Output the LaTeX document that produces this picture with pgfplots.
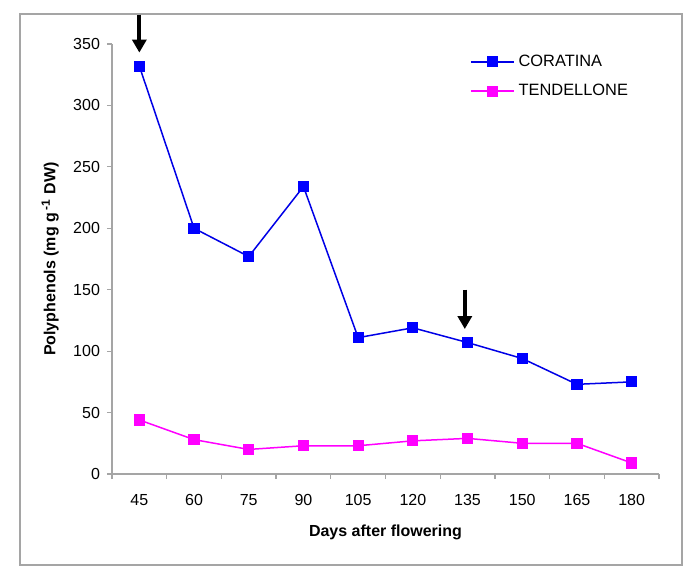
\documentclass[border=0pt]{standalone}
\usepackage{fontspec}
\setmainfont{Liberation Sans}
\usepackage{pgfplots}
\pgfplotsset{compat=1.18}
\usetikzlibrary{arrows.meta}
\definecolor{corblue}{RGB}{0,0,230}
\definecolor{tendmag}{RGB}{255,0,255}
\definecolor{axgray}{RGB}{165,165,165}
\begin{document}
\begin{tikzpicture}
\useasboundingbox (-56pt,-55.5pt) rectangle (286.5pt,237pt);
\draw[axgray, line width=0.8pt] (-46pt,-45.5pt) rectangle (285pt,230pt);
\begin{axis}[
  at={(0,0)}, anchor=south west,
  width=273.5pt, height=215pt, scale only axis,
  font=\fontsize{8}{10}\selectfont,
  axis x line*=bottom, axis y line*=left,
  axis line style={axgray, line width=0.6pt},
  xmin=-0.5, xmax=9.5, ymin=0, ymax=350,
  xtick={0,...,9},
  xticklabels={45,60,75,90,105,120,135,150,165,180},
  minor xtick={-0.5,0.5,...,9.5},
  major x tick style={draw=none},
  minor x tick style={axgray, line width=0.6pt},
  ytick={0,50,...,350},
  y tick style={axgray, line width=0.6pt},
  tick align=outside,
  major tick length=2.5pt, minor tick length=2.5pt,
  /pgf/number format/assume math mode=true,
  yticklabel style={xshift=0pt},
  xticklabel style={yshift=-4pt},
  xlabel={\bfseries Days after flowering},
  ylabel={\bfseries Polyphenols (mg g\,\textsuperscript{-1} DW)},
  xlabel style={at={(axis description cs:0.5,-0.135)}, anchor=center},
  ylabel style={at={(axis description cs:-0.113,0.5)}, anchor=center},
  legend style={draw=none, fill=none, at={(0.643,0.995)}, anchor=north west,
    font=\fontsize{8.2}{10}\selectfont, row sep=3.5pt,
    nodes={inner xsep=2pt}},
  legend cell align=left,
  legend image code/.code={\draw[mark repeat=2,mark phase=2] plot coordinates {(0pt,0pt) (10.75pt,0pt) (21.5pt,0pt)};},
  clip=false,
]
\addplot[corblue, line width=0.75pt, mark=square*, mark size=2.4pt, mark options={fill=blue, draw=blue}] coordinates {
 (0,332) (1,200) (2,177) (3,234) (4,111) (5,119) (6,107) (7,94) (8,73) (9,75)
};
\addlegendentry{CORATINA}
\addplot[tendmag, line width=0.75pt, mark=square*, mark size=2.4pt, mark options={fill=tendmag, draw=tendmag}] coordinates {
 (0,44) (1,28) (2,20) (3,23) (4,23) (5,27) (6,29) (7,25) (8,25) (9,9)
};
\addlegendentry{TENDELLONE}
\draw[line width=2pt, -{Triangle[width=7pt,length=6.5pt]}] (axis cs:0,374) -- (axis cs:0,343);
\draw[line width=2pt, -{Triangle[width=7pt,length=6.5pt]}] (axis cs:5.95,150) -- (axis cs:5.95,118);
\end{axis}
\end{tikzpicture}
\end{document}
